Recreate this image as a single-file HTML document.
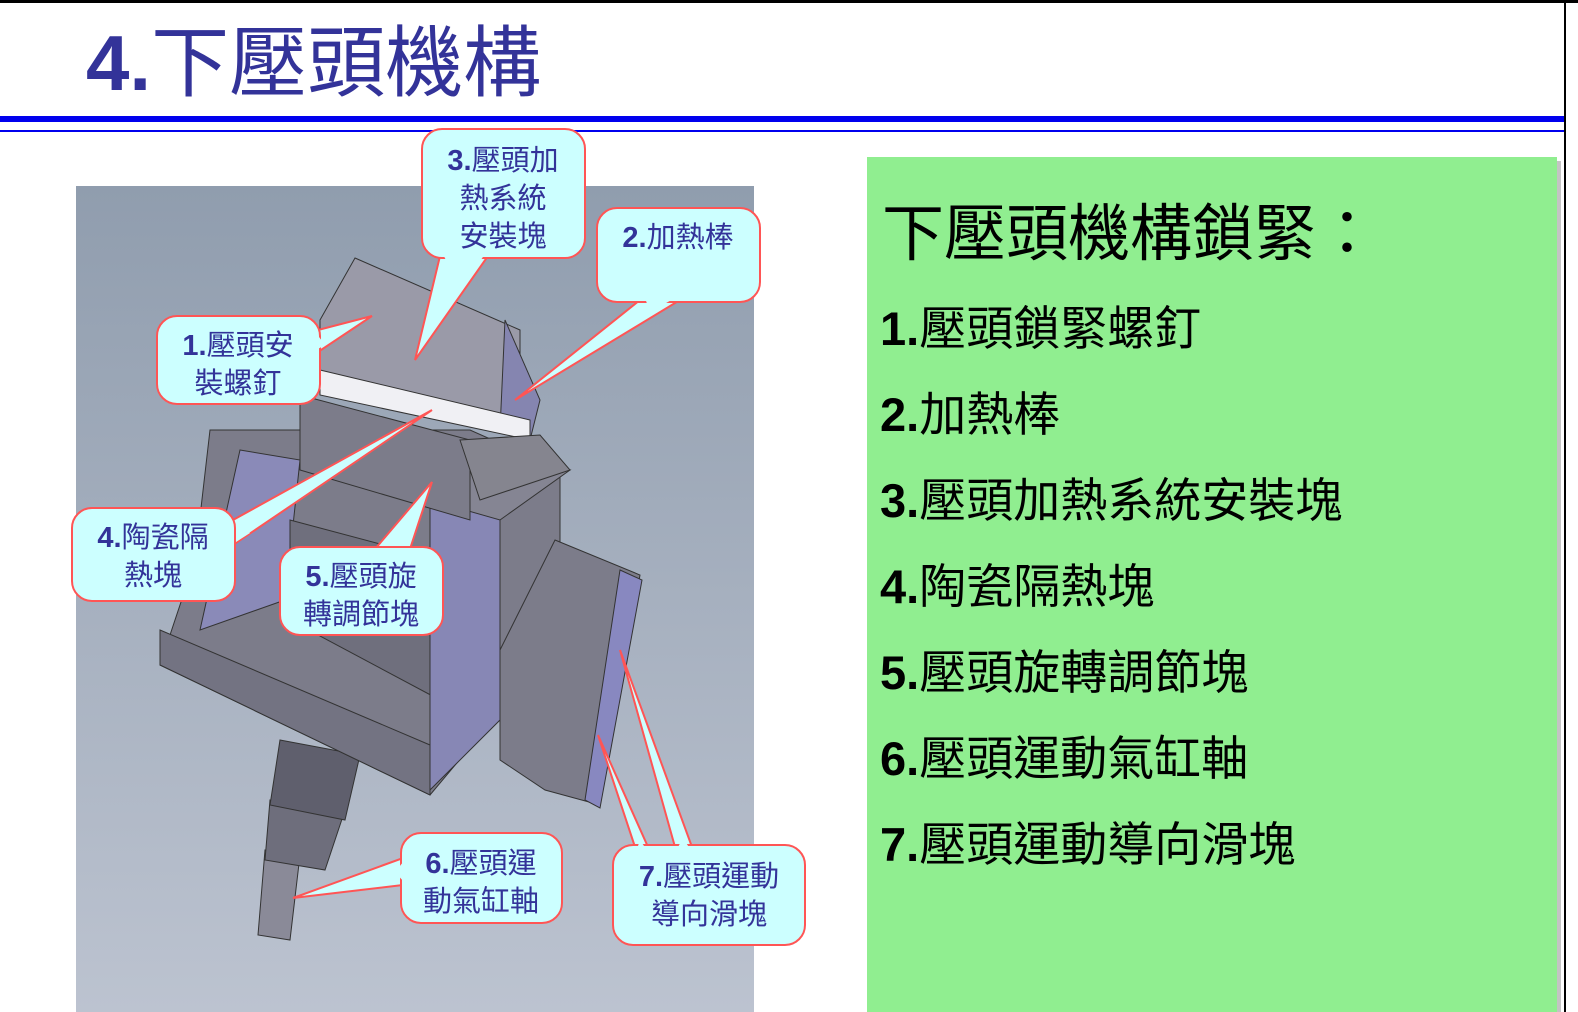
<!DOCTYPE html>
<html><head><meta charset="utf-8"><style>
html,body{margin:0;padding:0;background:#fff;}
body{width:1578px;height:1012px;overflow:hidden;position:relative;font-family:"Liberation Sans","Noto Sans CJK TC",sans-serif;}
</style></head><body>
<svg width="1578" height="1012" viewBox="0 0 1578 1012" xmlns="http://www.w3.org/2000/svg" style="position:absolute;left:0;top:0">
<defs>
<linearGradient id="bg" x1="0" y1="0" x2="0" y2="1">
<stop offset="0" stop-color="#909dae"/><stop offset="1" stop-color="#bcc3d0"/></linearGradient>
</defs>
<rect x="0" y="0" width="1578" height="3" fill="#000"/>
<rect x="1564" y="0" width="2" height="1012" fill="#000"/>
<text x="86" y="90" font-family="Liberation Sans, Noto Sans CJK TC, sans-serif" font-size="78" font-weight="bold" fill="#333399">4.<tspan font-weight="normal">下壓頭機構</tspan></text>
<rect x="0" y="116" width="1564" height="6" fill="#0000ee"/>
<rect x="0" y="130" width="1564" height="2" fill="#0000ee"/>

<rect x="76" y="186" width="678" height="826" fill="url(#bg)"/>
<g stroke="#333" stroke-width="1">
<polygon points="265,850 300,855 290,940 258,935" fill="#8a8a98"/>
<polygon points="270,800 345,810 325,870 265,860" fill="#6e6e7c"/>
<polygon points="280,740 360,755 345,820 270,805" fill="#5f5f6d"/>
<polygon points="210,430 470,430 560,470 560,640 430,795 160,665 195,560" fill="#7c7c8a"/>
<polygon points="160,630 430,745 430,795 160,665" fill="#737382"/>
<polygon points="240,450 300,460 285,600 200,630" fill="#8a8ab8"/>
<polygon points="290,520 440,560 440,700 290,620" fill="#6f6f7d"/>
<polygon points="430,500 500,470 500,720 430,790" fill="#8787b5"/>
<polygon points="460,470 570,470 500,520 430,500" fill="#858593"/>
<polygon points="555,540 640,575 600,805 545,790 500,760 500,650" fill="#7c7c8a"/>
<polygon points="620,570 642,580 600,808 585,800" fill="#8888c0"/>
<polygon points="355,258 520,330 520,430 320,380 320,320" fill="#9a9aa8"/>
<polygon points="505,320 540,400 530,440 500,430" fill="#8585b0"/>
<polygon points="320,370 530,420 530,440 320,395" fill="#f0f0f4"/>
<polygon points="300,395 470,440 470,520 300,470" fill="#7c7c8a"/>
<polygon points="460,440 540,435 570,470 480,500" fill="#85858f"/>
</g>

<g fill="#ccffff" stroke="#ff5555" stroke-width="2">
<polygon points="440,256 488,256 415,360"/>
<rect x="422" y="129" width="163" height="129" rx="20"/>
<polygon points="640,300 680,300 515,400"/>
<rect x="597" y="208" width="163" height="94" rx="20"/>
<polygon points="318,330 318,352 372,316"/>
<rect x="157" y="316" width="163" height="88" rx="20"/>
<polygon points="233,520 233,545 432,410"/>
<rect x="72" y="508" width="163" height="93" rx="20"/>
<polygon points="375,549 410,549 432,482"/>
<rect x="280" y="547" width="163" height="88" rx="20"/>
<polygon points="403,858 403,885 293,898"/>
<rect x="401" y="833" width="161" height="90" rx="20"/>
<polygon points="635,847 648,847 598,735"/>
<polygon points="675,847 692,847 620,650"/>
<rect x="613" y="845" width="192" height="100" rx="20"/>
</g>
<g fill="#ccffff">
<polygon points="443,254 485,254 460,290"/>
<polygon points="645,298 675,298 650,312"/>
<polygon points="316,333 316,350 325,345"/>
<polygon points="236,523 236,542 250,533"/>
<polygon points="378,551 407,551 400,560"/>
<polygon points="404,861 404,882 395,872"/>
<polygon points="637,849 646,849 640,840"/>
<polygon points="677,849 690,849 683,838"/>
</g>
<g font-family="Liberation Sans, Noto Sans CJK TC, sans-serif" font-size="29" fill="#333399" text-anchor="middle">
<text x="503" y="170"><tspan font-weight="bold">3.</tspan>壓頭加</text>
<text x="503" y="208">熱系統</text>
<text x="503" y="246">安裝塊</text>
<text x="678" y="247"><tspan font-weight="bold">2.</tspan>加熱棒</text>
<text x="238" y="355"><tspan font-weight="bold">1.</tspan>壓頭安</text>
<text x="238" y="393">裝螺釘</text>
<text x="153" y="547"><tspan font-weight="bold">4.</tspan>陶瓷隔</text>
<text x="153" y="585">熱塊</text>
<text x="361" y="586"><tspan font-weight="bold">5.</tspan>壓頭旋</text>
<text x="361" y="624">轉調節塊</text>
<text x="481" y="873"><tspan font-weight="bold">6.</tspan>壓頭運</text>
<text x="481" y="911">動氣缸軸</text>
<text x="709" y="886"><tspan font-weight="bold">7.</tspan>壓頭運動</text>
<text x="709" y="924">導向滑塊</text>
</g>

<rect x="871" y="161" width="690" height="851" fill="#8a8a8a" opacity="0.5"/>
<rect x="867" y="157" width="690" height="855" fill="#90ee90"/>
<g font-family="Liberation Sans, Noto Sans CJK TC, sans-serif" fill="#000">
<text x="882" y="255" font-size="62">下壓頭機構鎖緊：</text>
<g font-size="47">
<text x="880" y="345"><tspan font-weight="bold">1.</tspan>壓頭鎖緊螺釘</text>
<text x="880" y="431"><tspan font-weight="bold">2.</tspan>加熱棒</text>
<text x="880" y="517"><tspan font-weight="bold">3.</tspan>壓頭加熱系統安裝塊</text>
<text x="880" y="603"><tspan font-weight="bold">4.</tspan>陶瓷隔熱塊</text>
<text x="880" y="689"><tspan font-weight="bold">5.</tspan>壓頭旋轉調節塊</text>
<text x="880" y="775"><tspan font-weight="bold">6.</tspan>壓頭運動氣缸軸</text>
<text x="880" y="861"><tspan font-weight="bold">7.</tspan>壓頭運動導向滑塊</text>
</g>
</g>
</svg>
</body></html>
